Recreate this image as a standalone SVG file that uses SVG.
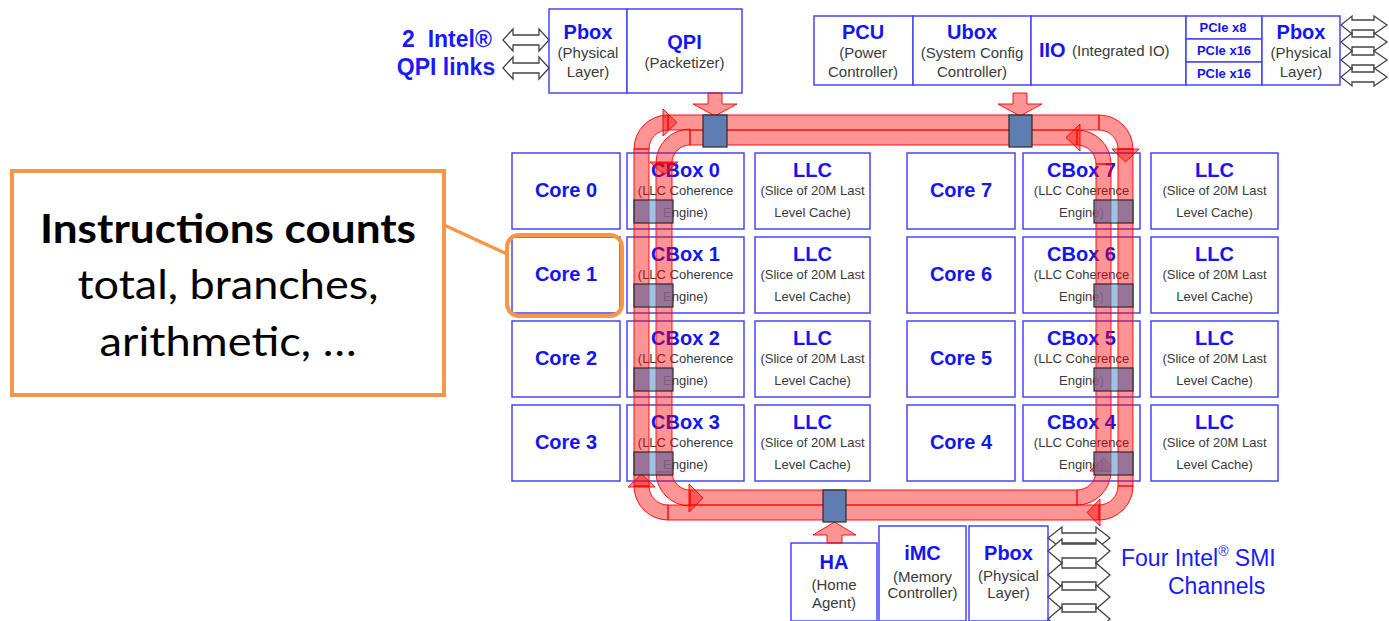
<svg xmlns="http://www.w3.org/2000/svg" width="1389" height="621" viewBox="0 0 1389 621">
<style>
.bx{fill:#fff;stroke:#4646ff;stroke-width:1.5}
.t{font-family:"Liberation Sans",Arial,sans-serif;font-weight:bold;fill:#1414f5;text-anchor:middle;font-size:20px}
.s{font-family:"Liberation Sans",Arial,sans-serif;fill:#3a3a3a;text-anchor:middle;font-size:13px}
.s15{font-family:"Liberation Sans",Arial,sans-serif;fill:#3a3a3a;text-anchor:middle;font-size:15px}
.st{text-anchor:start}
.pc{font-family:"Liberation Sans",Arial,sans-serif;font-weight:bold;fill:#1414f5;text-anchor:middle;font-size:13px}
.band{fill:#ff0000;fill-opacity:0.42;stroke:#ff0000;stroke-width:1;stroke-opacity:0.9}
.sq{fill:#5f7db0;stroke:#2a2a2a;stroke-width:1.2}
.csq{fill:#7d6b98;fill-opacity:0.8;stroke:#2a2a2a;stroke-width:1.2}
.gap{fill:#9ccbe8;fill-opacity:0.9}
.dbl{fill:#fff;stroke:#444;stroke-width:1.3;stroke-linejoin:miter}
.lbl{font-family:"Liberation Sans",Arial,sans-serif;fill:#1a1aff}
</style>

<!-- top-left QPI block -->
<g id="qpi-links-label">
<text class="lbl" x="447" y="47" font-size="23" font-weight="bold" text-anchor="middle" xml:space="preserve">2  Intel®</text>
<text class="lbl" x="446" y="75" font-size="23" font-weight="bold" text-anchor="middle">QPI links</text>
</g>
<g id="pbox-qpi">
<rect class="bx" x="549" y="9" width="78" height="84"/>
<text class="t" x="588" y="39">Pbox</text>
<text class="s15" x="588" y="58">(Physical</text>
<text class="s15" x="588" y="77">Layer)</text>
</g>
<g id="qpi">
<rect class="bx" x="627" y="9" width="115" height="84"/>
<text class="t" x="684.5" y="49">QPI</text>
<text class="s15" x="684.5" y="68">(Packetizer)</text>
</g>

<!-- top-right block -->
<g id="pcu">
<rect class="bx" x="814" y="16" width="99" height="69"/>
<text class="t" x="863" y="39">PCU</text>
<text class="s15" x="863" y="58">(Power</text>
<text class="s15" x="863" y="77">Controller)</text>
</g>
<g id="ubox">
<rect class="bx" x="913" y="16" width="118" height="69"/>
<text class="t" x="972" y="39">Ubox</text>
<text class="s15" x="972" y="58">(System Config</text>
<text class="s15" x="972" y="77">Controller)</text>
</g>
<g id="iio">
<rect class="bx" x="1031" y="16" width="155" height="69"/>
<text class="t st" x="1039" y="57">IIO</text>
<text class="s15 st" x="1072" y="56">(Integrated IO)</text>
</g>
<g id="pcie">
<rect class="bx" x="1186" y="16" width="76" height="23"/>
<rect class="bx" x="1186" y="39" width="76" height="23"/>
<rect class="bx" x="1186" y="62" width="76" height="23"/>
<text class="pc" x="1223" y="32">PCIe x8</text>
<text class="pc" x="1224" y="55">PCIe x16</text>
<text class="pc" x="1224" y="78">PCIe x16</text>
</g>
<g id="pbox-io">
<rect class="bx" x="1262" y="16" width="78" height="69"/>
<text class="t" x="1301" y="39">Pbox</text>
<text class="s15" x="1301" y="58">(Physical</text>
<text class="s15" x="1301" y="77">Layer)</text>
</g>

<!-- core grid -->
<g id="core0"><rect class="bx" x="512" y="153" width="108" height="76"/><text class="t" x="566" y="197">Core 0</text></g>
<g id="core1"><rect class="bx" x="512" y="237" width="108" height="76"/><text class="t" x="566" y="281">Core 1</text></g>
<g id="core2"><rect class="bx" x="512" y="321" width="108" height="76"/><text class="t" x="566" y="365">Core 2</text></g>
<g id="core3"><rect class="bx" x="512" y="405" width="108" height="76"/><text class="t" x="566" y="449">Core 3</text></g>
<g id="core7"><rect class="bx" x="907" y="153" width="108" height="76"/><text class="t" x="961" y="197">Core 7</text></g>
<g id="core6"><rect class="bx" x="907" y="237" width="108" height="76"/><text class="t" x="961" y="281">Core 6</text></g>
<g id="core5"><rect class="bx" x="907" y="321" width="108" height="76"/><text class="t" x="961" y="365">Core 5</text></g>
<g id="core4"><rect class="bx" x="907" y="405" width="108" height="76"/><text class="t" x="961" y="449">Core 4</text></g>

<g id="cbox0"><rect class="bx" x="627" y="153" width="117" height="76"/><text class="t" x="685.5" y="177">CBox 0</text><text class="s" x="685.5" y="195">(LLC Coherence</text><text class="s" x="685.5" y="217">Engine)</text></g>
<g id="cbox1"><rect class="bx" x="627" y="237" width="117" height="76"/><text class="t" x="685.5" y="261">CBox 1</text><text class="s" x="685.5" y="279">(LLC Coherence</text><text class="s" x="685.5" y="301">Engine)</text></g>
<g id="cbox2"><rect class="bx" x="627" y="321" width="117" height="76"/><text class="t" x="685.5" y="345">CBox 2</text><text class="s" x="685.5" y="363">(LLC Coherence</text><text class="s" x="685.5" y="385">Engine)</text></g>
<g id="cbox3"><rect class="bx" x="627" y="405" width="117" height="76"/><text class="t" x="685.5" y="429">CBox 3</text><text class="s" x="685.5" y="447">(LLC Coherence</text><text class="s" x="685.5" y="469">Engine)</text></g>
<g id="cbox7"><rect class="bx" x="1023" y="153" width="117" height="76"/><text class="t" x="1081.5" y="177">CBox 7</text><text class="s" x="1081.5" y="195">(LLC Coherence</text><text class="s" x="1081.5" y="217">Engine)</text></g>
<g id="cbox6"><rect class="bx" x="1023" y="237" width="117" height="76"/><text class="t" x="1081.5" y="261">CBox 6</text><text class="s" x="1081.5" y="279">(LLC Coherence</text><text class="s" x="1081.5" y="301">Engine)</text></g>
<g id="cbox5"><rect class="bx" x="1023" y="321" width="117" height="76"/><text class="t" x="1081.5" y="345">CBox 5</text><text class="s" x="1081.5" y="363">(LLC Coherence</text><text class="s" x="1081.5" y="385">Engine)</text></g>
<g id="cbox4"><rect class="bx" x="1023" y="405" width="117" height="76"/><text class="t" x="1081.5" y="429">CBox 4</text><text class="s" x="1081.5" y="447">(LLC Coherence</text><text class="s" x="1081.5" y="469">Engine)</text></g>

<g id="llc0"><rect class="bx" x="755" y="153" width="115" height="76"/><text class="t" x="812.5" y="177">LLC</text><text class="s" x="812.5" y="195">(Slice of 20M Last</text><text class="s" x="812.5" y="217">Level Cache)</text></g>
<g id="llc1"><rect class="bx" x="755" y="237" width="115" height="76"/><text class="t" x="812.5" y="261">LLC</text><text class="s" x="812.5" y="279">(Slice of 20M Last</text><text class="s" x="812.5" y="301">Level Cache)</text></g>
<g id="llc2"><rect class="bx" x="755" y="321" width="115" height="76"/><text class="t" x="812.5" y="345">LLC</text><text class="s" x="812.5" y="363">(Slice of 20M Last</text><text class="s" x="812.5" y="385">Level Cache)</text></g>
<g id="llc3"><rect class="bx" x="755" y="405" width="115" height="76"/><text class="t" x="812.5" y="429">LLC</text><text class="s" x="812.5" y="447">(Slice of 20M Last</text><text class="s" x="812.5" y="469">Level Cache)</text></g>
<g id="llc7"><rect class="bx" x="1151" y="153" width="127" height="76"/><text class="t" x="1214.5" y="177">LLC</text><text class="s" x="1214.5" y="195">(Slice of 20M Last</text><text class="s" x="1214.5" y="217">Level Cache)</text></g>
<g id="llc6"><rect class="bx" x="1151" y="237" width="127" height="76"/><text class="t" x="1214.5" y="261">LLC</text><text class="s" x="1214.5" y="279">(Slice of 20M Last</text><text class="s" x="1214.5" y="301">Level Cache)</text></g>
<g id="llc5"><rect class="bx" x="1151" y="321" width="127" height="76"/><text class="t" x="1214.5" y="345">LLC</text><text class="s" x="1214.5" y="363">(Slice of 20M Last</text><text class="s" x="1214.5" y="385">Level Cache)</text></g>
<g id="llc4"><rect class="bx" x="1151" y="405" width="127" height="76"/><text class="t" x="1214.5" y="429">LLC</text><text class="s" x="1214.5" y="447">(Slice of 20M Last</text><text class="s" x="1214.5" y="469">Level Cache)</text></g>

<!-- bottom block -->
<g id="ha">
<rect class="bx" x="791" y="543" width="86" height="78"/>
<text class="t" x="834" y="569">HA</text>
<text class="s15" x="834" y="590">(Home</text>
<text class="s15" x="834" y="608">Agent)</text>
</g>
<g id="imc">
<rect class="bx" x="879" y="526" width="87" height="95"/>
<text class="t" x="922.5" y="560">iMC</text>
<text class="s15" x="922.5" y="582">(Memory</text>
<text class="s15" x="922.5" y="598">Controller)</text>
</g>
<g id="pbox-mem">
<rect class="bx" x="969" y="526" width="79" height="95"/>
<text class="t" x="1008.5" y="560">Pbox</text>
<text class="s15" x="1008.5" y="581">(Physical</text>
<text class="s15" x="1008.5" y="598">Layer)</text>
</g>
<g id="smi-label">
<text class="lbl" x="1121" y="566" font-size="23">Four Intel<tspan font-size="14" dy="-10">®</tspan><tspan dy="10"> SMI</tspan></text>
<text class="lbl" x="1168" y="594" font-size="23">Channels</text>
</g>

<!-- connectors -->
<g id="connectors">
  <!-- QPI link arrows -->
  <path class="dbl" d="M503,40 L513,29 L513,35 L539,35 L539,29 L549,40 L539,51 L539,45 L513,45 L513,51 Z"/>
  <path class="dbl" d="M503,68 L513,57 L513,63 L539,63 L539,57 L549,68 L539,79 L539,73 L513,73 L513,79 Z"/>
  <!-- PCIe link arrows -->
  <path class="dbl" d="M1341,25 L1352,16 L1352,20 L1374,20 L1374,16 L1387,25 L1374,34 L1374,30 L1352,30 L1352,34 Z"/>
  <path class="dbl" d="M1341,42 L1352,33 L1352,37 L1374,37 L1374,33 L1387,42 L1374,51 L1374,47 L1352,47 L1352,51 Z"/>
  <path class="dbl" d="M1341,60 L1352,51 L1352,55 L1374,55 L1374,51 L1387,60 L1374,69 L1374,65 L1352,65 L1352,69 Z"/>
  <path class="dbl" d="M1341,77 L1352,68 L1352,72 L1374,72 L1374,68 L1387,77 L1374,86 L1374,82 L1352,82 L1352,86 Z"/>
  <!-- SMI channel arrows -->
  <path class="dbl" d="M1048,538 L1062,527 L1062,533 L1096,533 L1096,527 L1110,538 L1096,549 L1096,543 L1062,543 L1062,549 Z"/>
  <path class="dbl" d="M1048,551 L1062,539 L1062,544 L1096,544 L1096,539 L1110,551 L1096,563 L1096,558 L1062,558 L1062,563 Z"/>
  <path class="dbl" d="M1048,575 L1062,563 L1062,568 L1096,568 L1096,563 L1110,575 L1096,587 L1096,582 L1062,582 L1062,587 Z"/>
  <path class="dbl" d="M1048,597 L1062,585 L1062,590 L1096,590 L1096,585 L1110,597 L1096,609 L1096,604 L1062,604 L1062,609 Z"/>
  <path class="dbl" d="M1048,619 L1062,607 L1062,612 L1096,612 L1096,607 L1110,619 L1096,631 L1096,626 L1062,626 L1062,631 Z"/>

  <!-- ring: straight lanes -->
  <rect class="band" x="668" y="115" width="431" height="15"/>
  <rect class="band" x="690" y="130" width="387" height="15"/>
  <rect class="band" x="634" y="149" width="15" height="337"/>
  <rect class="band" x="656" y="163" width="16" height="309"/>
  <rect class="band" x="1118" y="149" width="15" height="337"/>
  <rect class="band" x="1096" y="164" width="15" height="307"/>
  <rect class="band" x="690" y="490" width="387" height="15"/>
  <rect class="band" x="668" y="505" width="431" height="15"/>
  <!-- ring: corner curves -->
  <path class="band" d="M634,149 A34,34 0 0 1 668,115 L668,130 A19,19 0 0 0 649,149 Z"/>
  <polygon class="band" points="663,109 677,122.5 663,136"/>
  <path class="band" d="M690,129 A34,34 0 0 0 656,163 L672,163 A18,18 0 0 1 690,145 Z"/>
  <polygon class="band" points="650,162 678,162 664,175"/>
  <path class="band" d="M1099,115 A34,34 0 0 1 1133,149 L1118,149 A19,19 0 0 0 1099,130 Z"/>
  <polygon class="band" points="1112,149 1139,149 1125.5,162"/>
  <path class="band" d="M1111,164 A34,34 0 0 0 1077,130 L1077,145 A19,19 0 0 1 1096,164 Z"/>
  <polygon class="band" points="1080,124 1066,137.5 1080,151"/>
  <path class="band" d="M668,520 A34,34 0 0 1 634,486 L649,486 A19,19 0 0 0 668,505 Z"/>
  <polygon class="band" points="628,487 655,487 641.5,474"/>
  <path class="band" d="M656,472 A34,34 0 0 0 690,506 L690,490 A18,18 0 0 1 672,472 Z"/>
  <polygon class="band" points="689,484 703,498 689,512"/>
  <path class="band" d="M1133,486 A34,34 0 0 1 1099,520 L1099,505 A19,19 0 0 0 1118,486 Z"/>
  <polygon class="band" points="1100,499 1087,512.5 1100,526"/>
  <path class="band" d="M1077,505 A34,34 0 0 0 1111,471 L1096,471 A19,19 0 0 1 1077,490 Z"/>
  <polygon class="band" points="1090,471 1117,471 1103.5,458"/>
  <!-- ring stops -->
  <polygon class="band" points="708,93 722,93 722,104 737,104 715,116 693,104 708,104"/>
  <polygon class="band" points="1013,93 1027,93 1027,104 1042,104 1020,116 998,104 1013,104"/>
  <polygon class="band" points="827,543 842,543 842,535 856,535 834.5,522 813,535 827,535"/>
  <rect class="sq" x="703" y="115" width="24" height="32"/>
  <rect class="sq" x="1009" y="115" width="23" height="32"/>
  <rect class="sq" x="823" y="490" width="23" height="32"/>
  <!-- cbox ring stops -->
  <g>
    <rect class="csq" x="634" y="200" width="39" height="23"/><rect class="gap" x="649.5" y="200.6" width="6" height="21.8"/>
    <rect class="csq" x="634" y="284" width="39" height="23"/><rect class="gap" x="649.5" y="284.6" width="6" height="21.8"/>
    <rect class="csq" x="634" y="368" width="39" height="23"/><rect class="gap" x="649.5" y="368.6" width="6" height="21.8"/>
    <rect class="csq" x="634" y="452" width="39" height="23"/><rect class="gap" x="649.5" y="452.6" width="6" height="21.8"/>
    <rect class="csq" x="1094" y="200" width="39" height="23"/><rect class="gap" x="1111.5" y="200.6" width="6" height="21.8"/>
    <rect class="csq" x="1094" y="284" width="39" height="23"/><rect class="gap" x="1111.5" y="284.6" width="6" height="21.8"/>
    <rect class="csq" x="1094" y="368" width="39" height="23"/><rect class="gap" x="1111.5" y="368.6" width="6" height="21.8"/>
    <rect class="csq" x="1094" y="452" width="39" height="23"/><rect class="gap" x="1111.5" y="452.6" width="6" height="21.8"/>
  </g>
  <!-- callout link -->
  <line x1="444" y1="225" x2="507" y2="254" stroke="#f79646" stroke-width="3.5"/>
</g>

<!-- callout -->
<g id="callout">
<rect x="12" y="171" width="432" height="224" fill="#fff" stroke="#f79646" stroke-width="4"/>
<text x="228" y="243" font-family="Lato,'Noto Sans',sans-serif" font-weight="bold" font-size="40" text-anchor="middle" textLength="376" lengthAdjust="spacingAndGlyphs" fill="#000">Instructions counts</text>
<text x="228" y="299" font-family="Lato,'Noto Sans',sans-serif" font-size="40" text-anchor="middle" textLength="301" lengthAdjust="spacingAndGlyphs" fill="#000">total, branches,</text>
<text x="228" y="356" font-family="Lato,'Noto Sans',sans-serif" font-size="40" text-anchor="middle" textLength="257" lengthAdjust="spacingAndGlyphs" fill="#000">arithmetic, …</text>
</g>
<g id="core1-highlight">
<rect x="507" y="235" width="115" height="81" rx="12" fill="none" stroke="#f79646" stroke-width="4"/>
</g>
</svg>
